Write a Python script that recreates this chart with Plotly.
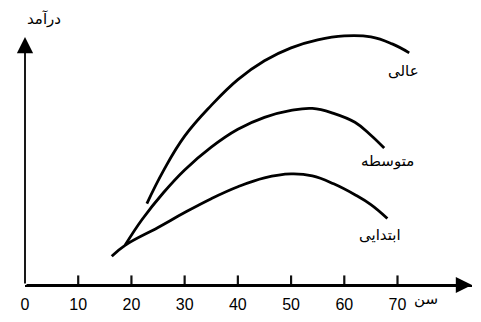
import plotly.graph_objects as go

# Age (x) and income (arbitrary units, y)
age_high = [22.9, 26, 30, 35, 40, 45, 50, 55, 60, 65, 69, 72.2]
inc_high = [82, 115, 150, 181, 207, 226, 239, 247, 251, 250, 243, 234]

age_mid = [18.8, 22, 26, 30, 35, 40, 45, 50, 54, 58, 62, 65, 67.5]
inc_mid = [40, 66, 93, 116, 139, 157, 169, 176, 178, 173, 164, 151, 138]

age_low = [16.3, 18.8, 25, 30, 35, 40, 45, 50, 54, 58, 62, 65, 68.1]
inc_low = [29, 40, 58, 73, 87, 99, 108, 112, 110, 102, 91, 81, 67]

tick_vals = [0, 10, 20, 30, 40, 50, 60, 70]
labels = ["عالی", "متوسطه", "ابتدایی"]
label_pos = [(71.2, 216), (68.1, 125), (66.8, 50)]

fig = go.Figure()
for xs, ys in [(age_high, inc_high), (age_mid, inc_mid), (age_low, inc_low)]:
    fig.add_trace(go.Scatter(x=xs, y=ys, mode="lines",
                             line=dict(color="black", width=2.8, shape="spline", smoothing=1.2),
                             showlegend=False, hoverinfo="skip"))

# small upward tick marks on the x axis
fig.add_trace(go.Scatter(x=tick_vals[1:], y=[4] * (len(tick_vals) - 1), mode="markers",
                         marker=dict(symbol="line-ns", size=8, color="#111111",
                                     line=dict(color="#111111", width=2.2)),
                         cliponaxis=False, showlegend=False, hoverinfo="skip"))

annotations = []
# axes with arrows
annotations.append(dict(x=84, y=0, ax=0, ay=0, xref="x", yref="y", axref="x", ayref="y",
                        showarrow=True, arrowhead=2, arrowsize=1.8, arrowwidth=1.8,
                        arrowcolor="black", text=""))
annotations.append(dict(x=0, y=250, ax=0, ay=0, xref="x", yref="y", axref="x", ayref="y",
                        showarrow=True, arrowhead=2, arrowsize=1.8, arrowwidth=1.8,
                        arrowcolor="black", text=""))
for t, (x, y) in zip(labels, label_pos):
    annotations.append(dict(x=x, y=y, xref="x", yref="y", text=t, showarrow=False,
                            font=dict(family="DejaVu Sans", size=15, color="black")))
annotations.append(dict(x=0.928, y=-0.10, xref="paper", yref="paper", text="سن", showarrow=False,
                        font=dict(family="DejaVu Sans", size=15, color="black")))
annotations.append(dict(x=0.0, y=1.09, xref="paper", yref="paper", text="درآمد", showarrow=False,
                        font=dict(family="DejaVu Sans", size=15, color="black")))

fig.update_layout(
    width=481, height=322,
    margin=dict(l=25, r=9, t=31, b=35),
    paper_bgcolor="white", plot_bgcolor="white",
    annotations=annotations,
    xaxis=dict(range=[0, 84], showgrid=False, zeroline=False,
               showline=True, linecolor="black", linewidth=1.8,
               tickvals=tick_vals, ticktext=[str(v) for v in tick_vals],
               ticks="", ticklabelstandoff=4,
               tickfont=dict(family="Liberation Sans", size=16, color="black")),
    yaxis=dict(range=[0, 256], showgrid=False, zeroline=False, showline=False,
               showticklabels=False, ticks=""),
)
fig.write_html("out.html")
